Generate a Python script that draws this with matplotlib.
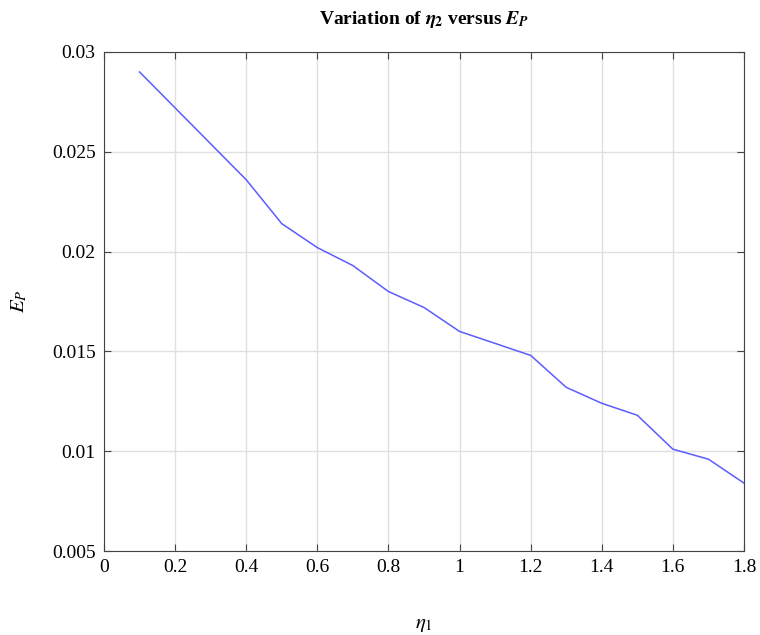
import matplotlib
matplotlib.use("Agg")
import matplotlib.pyplot as plt

# eta_1 values and the resulting E_P
eta1 = [0.1, 0.2, 0.3, 0.4, 0.5, 0.6, 0.7, 0.8, 0.9, 1.0, 1.1, 1.2, 1.3, 1.4, 1.5, 1.6, 1.7, 1.8]
ep = [0.0290, 0.0272, 0.0254, 0.0236, 0.0214, 0.0202, 0.0193, 0.0180, 0.0172, 0.0160,
      0.0154, 0.0148, 0.0132, 0.0124, 0.0118, 0.0101, 0.0096, 0.0084]

xticks = [0, 0.2, 0.4, 0.6, 0.8, 1, 1.2, 1.4, 1.6, 1.8]
xticklabels = ["0", "0.2", "0.4", "0.6", "0.8", "1", "1.2", "1.4", "1.6", "1.8"]
yticks = [0.005, 0.01, 0.015, 0.02, 0.025, 0.03]
yticklabels = ["0.005", "0.01", "0.015", "0.02", "0.025", "0.03"]

plt.rcParams['font.family'] = 'Liberation Serif'
plt.rcParams['mathtext.fontset'] = 'stix'

fig = plt.figure(figsize=(7.6, 6.35), dpi=100)
ax = fig.add_axes([104 / 760, 1 - 551 / 635, 640 / 760, 499 / 635])

ax.plot(eta1, ep, color='#5c5cff', linewidth=1.1)

ax.set_xlim(0, 1.8)
ax.set_ylim(0.005, 0.03)
ax.set_xticks(xticks)
ax.set_xticklabels(xticklabels)
ax.set_yticks(yticks)
ax.set_yticklabels(yticklabels)
ax.tick_params(direction='in', top=True, right=True, labelsize=14, length=5,
               color='#444444', pad=6)
ax.grid(True, color='#e0e0e0', linewidth=1)
for s in ax.spines.values():
    s.set_color('#444444')

ax.set_title(r'Variation of $\mathbfit{\eta}_\mathbf{2}$ versus $\mathbfit{E}_\mathbfit{P}$',
             fontsize=14, fontweight='bold', pad=20)
ax.set_xlabel(r'$\eta_1$', fontsize=15, labelpad=28)
ax.set_ylabel(r'$E_P$', fontsize=15, labelpad=16)

fig.savefig("out.png", dpi=100)
